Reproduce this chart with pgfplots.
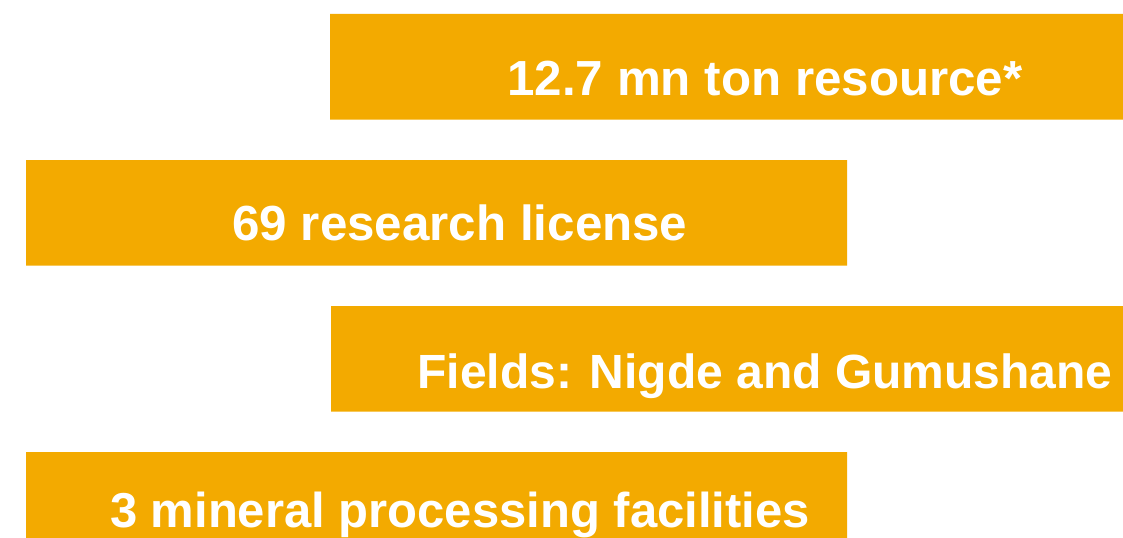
\documentclass[border=0pt]{standalone}
\usepackage{fontspec}
\setmainfont{Liberation Sans}
\usepackage{pgfplots}
\pgfplotsset{compat=1.18}
\definecolor{barorange}{HTML}{F3AA00}
\begin{document}
\begin{tikzpicture}
\begin{axis}[
  scale only axis,
  width=1123bp, height=537bp,
  xmin=0, xmax=1123, ymin=0, ymax=537,
  y dir=reverse,
  hide axis,
  xbar stacked,
  bar width=105.7,
  clip=false,
  name=ax,
]
% invisible offsets (bar start)
\addplot[draw=none, fill=none] coordinates {(330,66.85) (26,212.85) (331,358.85) (26,504.85)};
% visible lengths
\addplot[draw=none, fill=barorange] coordinates {(793,66.85) (821,212.85) (792,358.85) (821,504.85)};
\coordinate (t1) at (axis cs:765,96);
\coordinate (t2) at (axis cs:460,241);
\coordinate (t3) at (axis cs:765,388);
\coordinate (t4) at (axis cs:460,527);
\coordinate (sw) at (axis cs:0,537);
\coordinate (ne) at (axis cs:1123,0);
\end{axis}
\tikzset{lbl/.style={anchor=base, text=white, font=\fontsize{49.3bp}{56bp}\selectfont\bfseries}}
\node[lbl] at (t1) {12.7 mn ton resource*};
\node[lbl] at (t2) {69 research license};
\node[lbl, font=\fontsize{48bp}{56bp}\selectfont\bfseries] at (t3) {Fields: Nigde and Gumushane};
\node[lbl, font=\fontsize{49bp}{56bp}\selectfont\bfseries] at (t4) {3 mineral processing facilities};
\pgfresetboundingbox
\path (sw) rectangle (ne);
\end{tikzpicture}
\end{document}
